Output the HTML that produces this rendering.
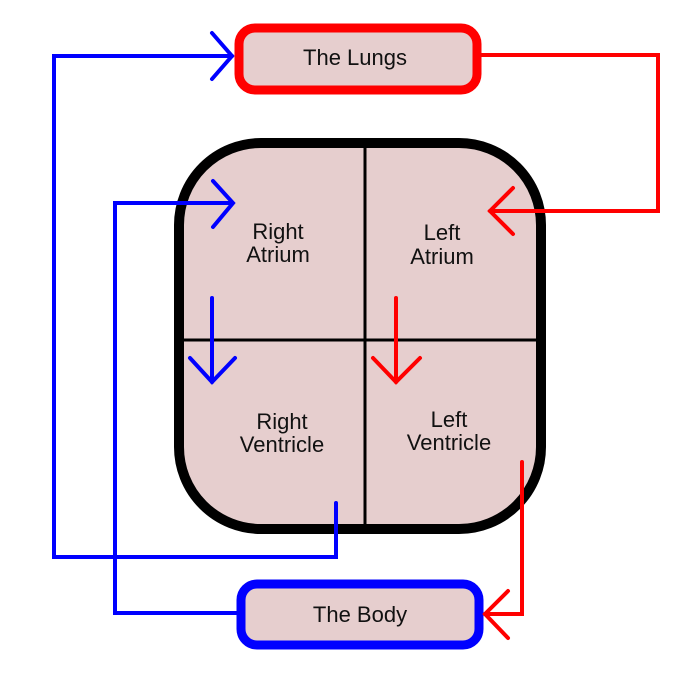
<!DOCTYPE html>
<html><head><style>html,body{margin:0;padding:0;background:#fff}</style></head><body>
<svg width="700" height="675" viewBox="0 0 700 675" xmlns="http://www.w3.org/2000/svg" font-family="Liberation Sans, sans-serif" font-size="22" text-anchor="middle">
<rect x="179" y="143" width="362" height="386" rx="82" ry="82" fill="#e6cece" stroke="#000" stroke-width="10"/>
<line x1="365" y1="145" x2="365" y2="528" stroke="#000" stroke-width="3"/>
<line x1="182" y1="340" x2="538" y2="340" stroke="#000" stroke-width="3"/>
<rect x="239" y="28" width="238" height="62" rx="16" fill="#e6cece" stroke="#f00" stroke-width="9"/>
<rect x="241" y="584" width="238" height="61" rx="16" fill="#e6cece" stroke="#00f" stroke-width="9"/>
<g fill="#111">
<text x="355" y="65">The Lungs</text>
<text x="360" y="622">The Body</text>
<text x="278" y="239">Right</text><text x="278" y="262">Atrium</text>
<text x="442" y="240">Left</text><text x="442" y="264">Atrium</text>
<text x="282" y="429">Right</text><text x="282" y="452">Ventricle</text>
<text x="449" y="427">Left</text><text x="449" y="450">Ventricle</text>
</g>
<g fill="none" stroke="#00f" stroke-width="4" stroke-linecap="round" stroke-linejoin="miter">
<polyline points="336,503 336,557 54,557 54,56 232,56"/>
<polyline points="212,33 232,56 212,79"/>
<polyline points="237,613 115,613 115,203 232,203"/>
<polyline points="213,181 233,203 213,227"/>
<line x1="212" y1="298" x2="212" y2="382"/>
<polyline points="190,358 212,382 235,358"/>
</g>
<g fill="none" stroke="#f00" stroke-width="4" stroke-linecap="round">
<polyline points="480,55 658,55 658,211 490,211"/>
<polyline points="513,188 490,211 513,234"/>
<line x1="396" y1="298" x2="396" y2="382"/>
<polyline points="373,358 396,382 420,358"/>
<polyline points="522,462 522,614 485,614"/>
<polyline points="508,591 485,614 508,638"/>
</g>
</svg>
</body></html>
